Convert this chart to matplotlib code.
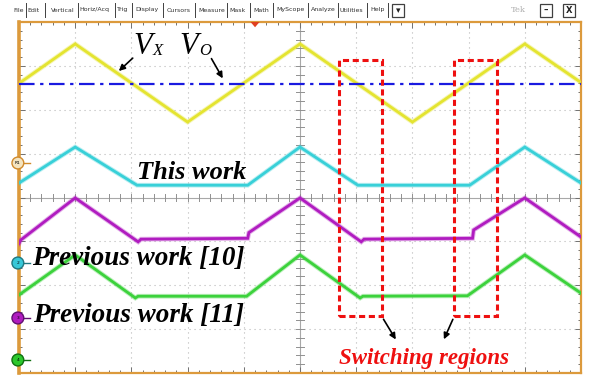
import numpy as np
import matplotlib.pyplot as plt
from matplotlib.patches import Rectangle, Ellipse, Polygon

W, H = 589, 377

# scope traces, x and y in screen divisions (10 x 8)
vx_x = [0, 1, 3, 5, 7, 9, 10]
vx_y = [6.6, 7.5, 5.72, 7.5, 5.72, 7.5, 6.62]
vo_level = 6.58

this_x = [0, 1, 2.1, 4.07, 5, 6.03, 8.02, 9, 10]
this_y = [4.33, 5.15, 4.28, 4.28, 5.15, 4.28, 4.28, 5.15, 4.33]

prev10_x = [0, 0.03, 1, 2.12, 2.17, 4.07, 4.09, 5, 6.09, 6.14, 8.07, 8.09, 9, 10]
prev10_y = [2.95, 3.03, 3.99, 2.99, 3.05, 3.07, 3.2, 3.99, 2.99, 3.05, 3.07, 3.26, 3.99, 3.1]

prev11_x = [0, 1, 2.07, 2.12, 4.05, 5, 6.07, 6.12, 7.98, 9, 10]
prev11_y = [1.78, 2.69, 1.71, 1.75, 1.75, 2.69, 1.71, 1.75, 1.76, 2.69, 1.82]

switch_x = [(5.69, 6.46), (7.74, 8.51)]
switch_y = (1.30, 7.13)

menu_items = ['File', 'Edit', 'Vertical', 'Horiz/Acq', 'Trig', 'Display', 'Cursors',
              'Measure', 'Mask', 'Math', 'MyScope', 'Analyze', 'Utilities', 'Help']
menu_pos = [18.5, 33, 62.5, 94, 122.5, 146.5, 179, 211.5, 237, 261.5, 290.5, 323, 351.5, 377.5]
menu_sep = [26, 45, 78, 115, 132, 163, 195, 227, 250, 273, 308, 338, 367, 388]

SERIF = 'Liberation Serif'


def px(x, y):
    return x / W, 1 - y / H


fig = plt.figure(figsize=(W / 100, H / 100), dpi=100)
fig.patch.set_facecolor('white')

# menu bar
for label, x in zip(menu_items, menu_pos):
    fig.text(*px(x, 10), label, fontsize=4.5, ha='center', va='center',
             family='DejaVu Sans', color='#303030')
for x in menu_sep:
    fig.add_artist(plt.Line2D([x / W, x / W], [1 - 3 / H, 1 - 17 / H], color='#404040', lw=0.7))
for x0, lab in [(392, '\u25be'), (540, '\u2013'), (563, 'X')]:
    fig.add_artist(Rectangle(px(x0, 17), 12 / W, 13 / H, fill=False, ec='#404040', lw=0.9))
    fig.text(*px(x0 + 6, 10.5), lab, fontsize=6.5 if lab != 'X' else 6, ha='center',
             va='center', color='#202020', weight='bold')
fig.text(*px(518, 10), 'Tek', fontsize=6, ha='center', va='center', color='#b0b0b0',
         family='DejaVu Serif')

ax = fig.add_axes([19 / W, 4 / H, 562 / W, 351 / H])
ax.set_xlim(0, 10)
ax.set_ylim(0, 8)
ax.set_facecolor('white')

# graticule
for i in range(1, 10):
    if i != 5:
        ax.axvline(i, color='#b8b8b8', lw=0.8, ls=(0, (1, 3.5)), zorder=1)
for j in range(1, 8):
    if j != 4:
        ax.axhline(j, color='#b8b8b8', lw=0.8, ls=(0, (1, 3.5)), zorder=1)
ax.axvline(5, color='#a8a8a8', lw=0.8, zorder=1)
ax.axhline(4, color='#a8a8a8', lw=0.8, zorder=1)
for t in np.arange(0.2, 10, 0.2):
    ax.plot([t, t], [3.93, 4.07], color='#909090', lw=0.7, zorder=1)
for t in np.arange(0.2, 8, 0.2):
    ax.plot([4.93, 5.07], [t, t], color='#909090', lw=0.7, zorder=1)

ax.set_xticks(np.arange(0, 10.01, 1))
ax.set_yticks(np.arange(0, 8.01, 1))
ax.set_xticks(np.arange(0, 10.01, 0.2), minor=True)
ax.set_yticks(np.arange(0, 8.01, 0.2), minor=True)
ax.tick_params(which='both', direction='in', top=True, right=True, labelbottom=False,
               labelleft=False, color='#707070', width=0.7)
ax.tick_params(which='major', length=4)
ax.tick_params(which='minor', length=2.5)
for side, sp in ax.spines.items():
    sp.set_color('#dc9a3c')
    sp.set_linewidth(2.6 if side == 'left' else 1.6)

# traces
traces = [(vx_x, vx_y, '#e4e430'), (this_x, this_y, '#38d0d8'),
          (prev10_x, prev10_y, '#b01cc0'), (prev11_x, prev11_y, '#3cd23c')]
for xs, ys, c in traces:
    ax.plot(xs, ys, color=c, lw=3.4, alpha=0.35, zorder=3, solid_joinstyle='miter')
    ax.plot(xs, ys, color=c, lw=2.0, zorder=4, solid_joinstyle='miter')

ax.axhline(vo_level, color='#1a1ae0', lw=1.6, ls=(0, (7, 2.5, 1.5, 2.5)), zorder=5)

# switching regions
for x0, x1 in switch_x:
    ax.add_patch(Rectangle((x0, switch_y[0]), x1 - x0, switch_y[1] - switch_y[0], fill=False,
                           ec='#ee1010', lw=2.2, ls=(0, (2, 1.2)), zorder=6))

arrow = dict(arrowstyle='-|>', color='black', lw=1.2, mutation_scale=9)
ax.annotate('', xy=(6.73, 0.71), xytext=(6.46, 1.28), arrowprops=arrow, zorder=7)
ax.annotate('', xy=(7.54, 0.71), xytext=(7.74, 1.28), arrowprops=arrow, zorder=7)
ax.annotate('', xy=(1.74, 6.84), xytext=(2.06, 7.22), arrowprops=arrow, zorder=7)
ax.annotate('', xy=(3.65, 6.66), xytext=(3.40, 7.22), arrowprops=arrow, zorder=7)

ax.text(7.21, 0.34, 'Switching regions', color='#ee1010', fontsize=16.5, weight='bold',
        style='italic', family=SERIF, ha='center', va='center', zorder=8)
ax.text(3.08, 4.58, 'This work', color='black', fontsize=19, weight='bold',
        style='italic', family=SERIF, ha='center', va='center', zorder=8)
ax.text(0.23, 2.62, 'Previous work [10]', color='black', fontsize=19.5, weight='bold',
        style='italic', family=SERIF, ha='left', va='center', zorder=8)
ax.text(0.25, 1.32, 'Previous work [11]', color='black', fontsize=19.5, weight='bold',
        style='italic', family=SERIF, ha='left', va='center', zorder=8)

# V_X and V_O labels
for xv, sub in [(2.03, 'X'), (2.85, 'O')]:
    ax.text(xv, 7.27, 'V', fontsize=22, style='italic', family=SERIF, ha='left',
            va='baseline', zorder=8)
    ax.text(xv + 0.35, 7.25, sub, fontsize=12, style='italic', family=SERIF, ha='left',
            va='baseline', zorder=8)

# channel markers (circle on the left frame plus a small pointer)
markers = [(163, '#f4e4c0', '#d08a2c', 'R1'), (263, '#38c8d8', '#207880', '2'),
           (318, '#b01cc0', '#601070', '3'), (360, '#2cc82c', '#107010', '4')]
for y, fc, ec, lab in markers:
    xm, ym = -0.02, (373 - y) / 43.875
    ax.plot([xm, xm + 0.22], [ym, ym], color=ec, lw=1.0, clip_on=False, zorder=9)
    ax.add_patch(Ellipse((xm, ym), 0.21, 0.27, fc=fc, ec=ec, lw=1.0,
                         clip_on=False, zorder=9))
    ax.text(xm, ym, lab, fontsize=3.2, ha='center', va='center', color='black', zorder=10,
            clip_on=False)

# trigger marker on top ruler
ax.add_patch(Polygon([(4.12, 8.0), (4.28, 8.0), (4.2, 7.88)], closed=True, fc='#e04020',
                     ec='none', clip_on=False, zorder=9))

plt.savefig('out.png', dpi=100)
